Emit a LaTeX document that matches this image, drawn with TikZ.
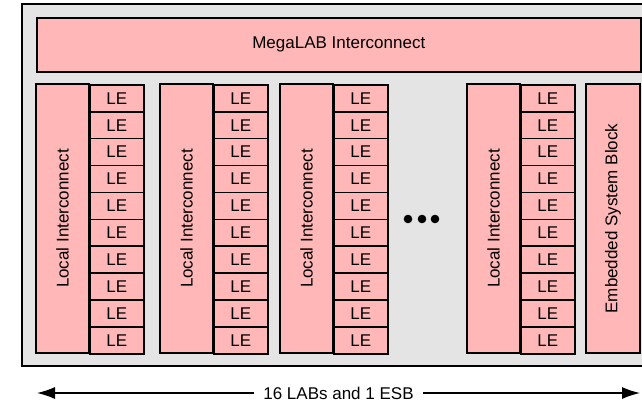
\documentclass[tikz,border=0pt]{standalone}
\usepackage{fontspec}
\setmainfont{Liberation Sans}
\usetikzlibrary{arrows.meta}
\definecolor{labpink}{RGB}{255,183,183}
\definecolor{chipgray}{RGB}{228,228,228}
\tikzset{
  blk/.style={draw, line width=1.6pt, fill=labpink, inner sep=0pt},
  cell/.style={blk, anchor=north west, minimum width=54, minimum height=26.9}
}
\begin{document}
\begin{tikzpicture}[x=1pt,y=-1pt,>={Latex[length=18pt,width=12pt]},
  every node/.append style={font=\fontsize{17}{20}\selectfont}]
\useasboundingbox (0,0) rectangle (642,405);
\fill[chipgray] (22,4) rectangle (660,366);
\draw[line width=1.6pt] (660,4) -- (22,4) -- (22,366) -- (660,366);

\node[blk, anchor=north west, minimum width=604, minimum height=54] (mega) at (36,17) {MegaLAB Interconnect};

\foreach \n/\x in {1/36, 2/160, 3/280, 4/467}
{
    \node[blk, rotate=90, minimum width=269, minimum height=53] (loc\n) at (\x+26.5,218.5) {Local Interconnect};
    \foreach \r in {0,...,9}
    {
        \node[cell] (le\n-\r) at (\x+53,84+26.9*\r) {LE};
    }
}

\node[blk, rotate=90, minimum width=269, minimum height=54] (esb) at (613,218.5) {Embedded System Block};

\foreach \x in {408,422,435}
{
    \fill (\x,219) circle (4.3pt);
}

\coordinate (arrL) at (37,393);
\coordinate (arrR) at (640,393);
\draw[<->, line width=1.3pt] (arrL) -- node[fill=white, inner xsep=9pt, inner ysep=2pt] (span) {16 LABs and 1 ESB} (arrR);
\end{tikzpicture}
\end{document}
